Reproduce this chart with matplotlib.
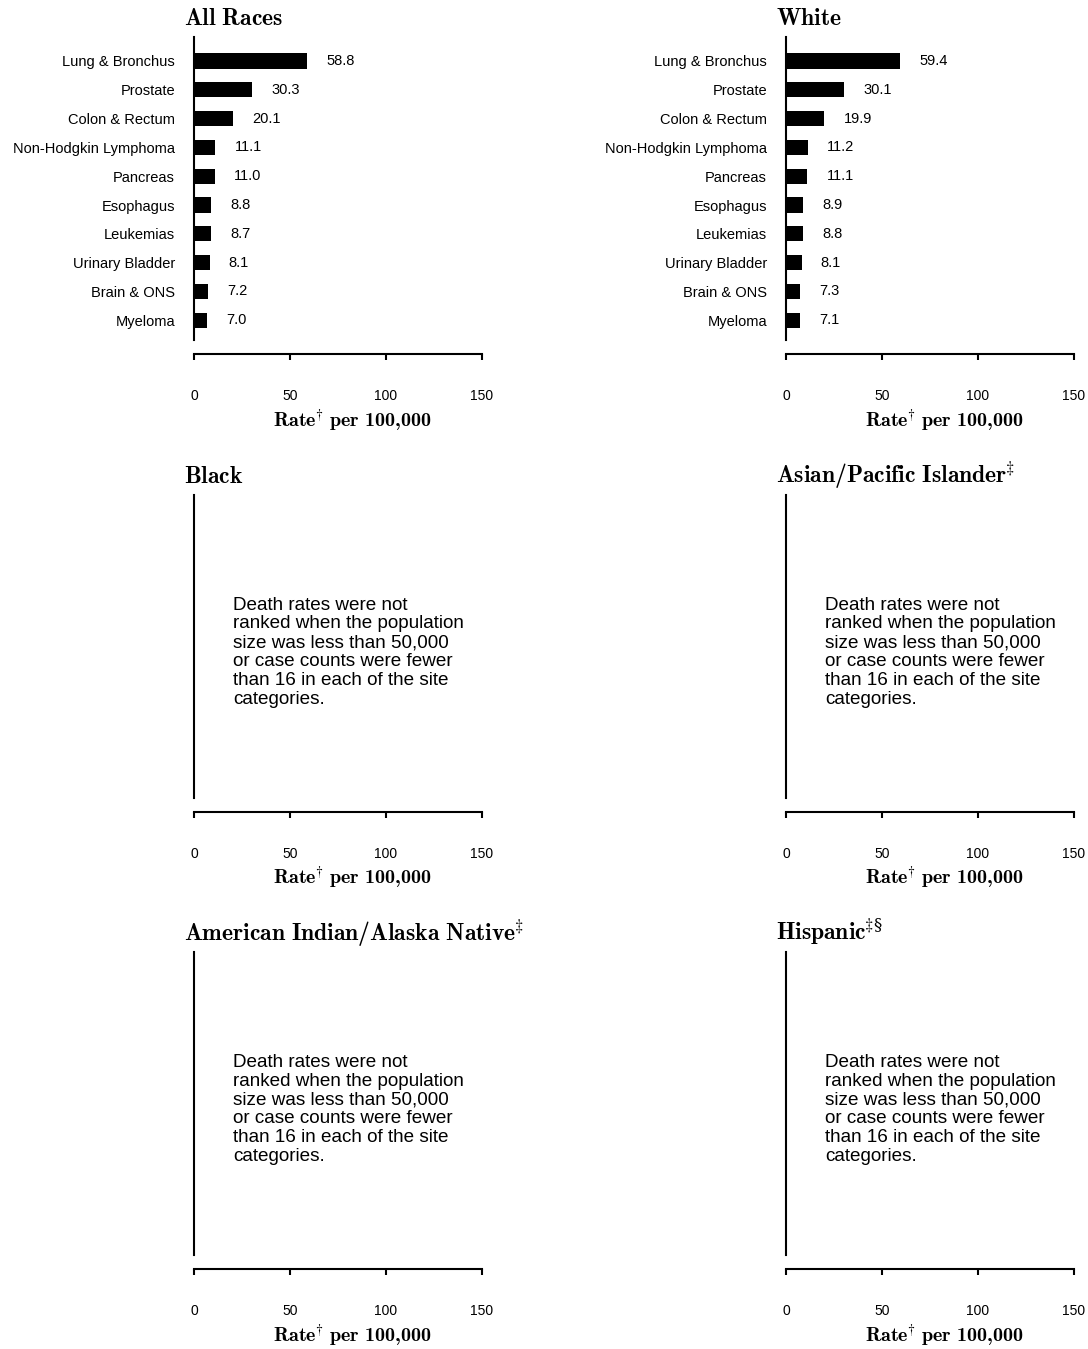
import matplotlib
matplotlib.use('Agg')
import matplotlib.pyplot as plt

plt.rcParams['font.family'] = ['Liberation Sans', 'DejaVu Sans']
# bold Computer Modern for titles and axis labels (digits included)
plt.rcParams['mathtext.fontset'] = 'custom'
plt.rcParams['mathtext.rm'] = 'cmr10'
plt.rcParams['mathtext.it'] = 'cmmi10'
plt.rcParams['mathtext.bf'] = 'cmb10'
plt.rcParams['mathtext.sf'] = 'DejaVu Serif'
plt.rcParams['mathtext.fallback'] = 'cm'

# data
sites = ['Lung & Bronchus', 'Prostate', 'Colon & Rectum', 'Non-Hodgkin Lymphoma',
         'Pancreas', 'Esophagus', 'Leukemias', 'Urinary Bladder', 'Brain & ONS', 'Myeloma']
all_races = [58.8, 30.3, 20.1, 11.1, 11.0, 8.8, 8.7, 8.1, 7.2, 7.0]
white = [59.4, 30.1, 19.9, 11.2, 11.1, 8.9, 8.8, 8.1, 7.3, 7.1]
x_ticks = [0, 50, 100, 150]

titles = [r'$\mathbf{All\ Races}$',
          r'$\mathbf{White}$',
          r'$\mathbf{Black}$',
          r'$\mathbf{Asian/Pacific\ Islander}\hspace{-0.06}^{\ddagger}$',
          r'$\mathbf{American\ Indian/Alaska\ Native}\hspace{-0.06}^{\ddagger}$',
          r'$\mathbf{Hispanic}\hspace{-0.06}^{\ddagger\mathsf{\S}}$']
values = [all_races, white, None, None, None, None]

note = ("Death rates were not\nranked when the population\nsize was less than 50,000\n"
        "or case counts were fewer\nthan 16 in each of the site\ncategories.")
xlabel = r'$\mathbf{Rate}\hspace{-0.06}^{\dagger}\ \mathbf{per\ 100{,}000}$'

W, H = 1088, 1349
fig = plt.figure(figsize=(W / 100, H / 100), dpi=100)

ax_w, ax_h = 288, 317
for k, (title, vals) in enumerate(zip(titles, values)):
    row, col = k // 2, k % 2
    x0 = 194 + 592 * col
    top = 37 + 457.5 * row
    ax = fig.add_axes([x0 / W, 1 - (top + ax_h) / H, ax_w / W, ax_h / H])

    ax.set_xlim(0, 150)
    ax.set_ylim(10.17, -0.833)
    for s in ['top', 'right']:
        ax.spines[s].set_visible(False)
    ax.spines['left'].set_bounds(-0.833, 9.69)
    ax.spines['left'].set_linewidth(1.5)
    ax.spines['bottom'].set_linewidth(1.5)

    ax.set_xticks(x_ticks)
    ax.tick_params(axis='x', direction='out', length=4.3, width=1.5, pad=21, labelsize=10)
    ax.tick_params(axis='y', length=0, pad=13.7, labelsize=10.5)

    if vals is not None:
        pos = list(range(len(sites)))
        ax.barh(pos, vals, height=0.53, color='black')
        ax.set_yticks(pos)
        ax.set_yticklabels(sites)
        for i, v in enumerate(vals):
            ax.text(v + 10, i, f'{v:.1f}', va='center', ha='left', fontsize=10.5)
    else:
        ax.set_yticks([])
        ax.text(39 / ax_w, 1 - 102 / ax_h, note, transform=ax.transAxes,
                ha='left', va='top', fontsize=13.6, linespacing=1.14)

    ax.text(-10 / ax_w, 1 + 12 / ax_h, title, transform=ax.transAxes,
            ha='left', va='baseline', fontsize=17)
    ax.text(158 / ax_w, -73 / ax_h, xlabel, transform=ax.transAxes,
            ha='center', va='baseline', fontsize=14.5)

fig.savefig('out.png', dpi=100)
